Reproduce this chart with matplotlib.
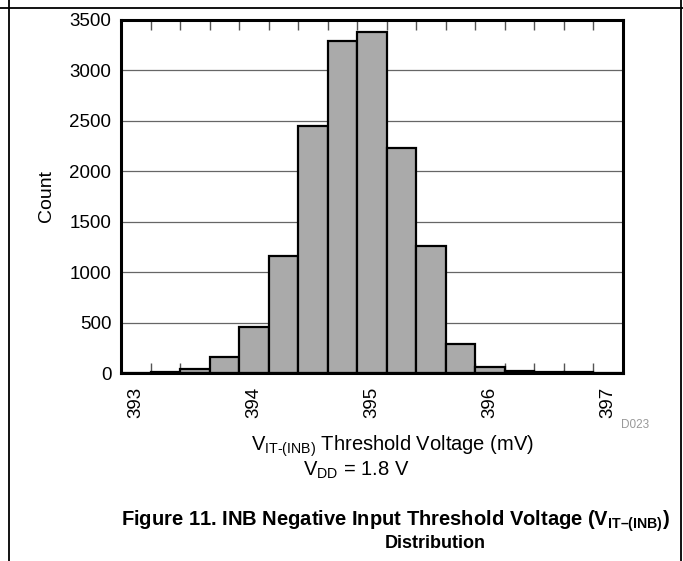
import matplotlib
matplotlib.use('Agg')
import matplotlib.pyplot as plt
from matplotlib.lines import Line2D
import numpy as np

plt.rcParams['font.family'] = ['Liberation Sans', 'DejaVu Sans']
plt.rcParams['mathtext.fontset'] = 'custom'
plt.rcParams['mathtext.rm'] = 'Liberation Sans'
plt.rcParams['mathtext.it'] = 'Liberation Sans:italic'
plt.rcParams['mathtext.bf'] = 'Liberation Sans:bold'

# histogram bins (mV) and counts
bin_centers = [393.00, 393.25, 393.50, 393.75, 394.00, 394.25, 394.50, 394.75,
               395.00, 395.25, 395.50, 395.75, 396.00, 396.25, 396.50, 396.75, 397.00]
counts = [3, 8, 35, 163, 455, 1165, 2453, 3292,
          3382, 2235, 1258, 288, 62, 15, 8, 5, 3]
bin_width = 0.25
x_labels = [393, 394, 395, 396, 397]
y_ticks = [0, 500, 1000, 1500, 2000, 2500, 3000, 3500]

W, H = 683, 561
fig = plt.figure(figsize=(W / 100, H / 100), dpi=100)
ax = fig.add_axes([121 / W, 1 - 373 / H, (622.7 - 121) / W, (373 - 20) / H])

ax.bar(bin_centers, counts, width=bin_width, color='#aaaaaa', edgecolor='black',
       linewidth=1.6, zorder=3)

edges = np.array(bin_centers) - bin_width / 2
ax.set_xlim(edges[0], bin_centers[-1] + bin_width / 2)
ax.set_ylim(0, 3500)

ax.set_xticks(x_labels)
ax.set_xticklabels([str(v) for v in x_labels], rotation=90, fontsize=13.5)
ax.set_xticks(list(edges[1:]), minor=True)
ax.tick_params(axis='x', which='major', length=0, pad=10)
ax.tick_params(axis='x', which='minor', direction='in', length=7, width=1,
               color='#555555', top=True, bottom=True)
ax.set_yticks(y_ticks)
ax.set_yticklabels([str(v) for v in y_ticks], fontsize=13.5)
ax.tick_params(axis='y', length=0, pad=7)
ax.yaxis.grid(True, color='#666666', linewidth=0.9, zorder=0)
ax.set_axisbelow(True)

for s in ax.spines.values():
    s.set_linewidth(2.2)
    s.set_zorder(4)

fig.text(46 / W, 1 - 196 / H, 'Count', rotation=90, fontsize=14,
         ha='center', va='center')
fig.text(635 / W, 1 - 425 / H, 'D023', fontsize=8.5, color='#999999',
         ha='center', va='center')
fig.text(393 / W, 1 - 446 / H,
         r'$\mathregular{V_{\text{IT-(INB)}}}$ Threshold Voltage (mV)',
         fontsize=14.5, ha='center', va='center')
fig.text(356 / W, 1 - 470 / H, r'$\mathregular{V_{DD}}$ = 1.8 V',
         fontsize=14.5, ha='center', va='center')
fig.text(395 / W, 1 - 521 / H,
         r'Figure 11. INB Negative Input Threshold Voltage ($\mathbf{V_{IT–(INB)}}$)',
         fontsize=14.5, fontweight='bold', ha='center', va='center')
fig.text(435 / W, 1 - 544 / H, 'Distribution', fontsize=13, fontweight='bold',
         ha='center', va='center')

# page frame lines
fig.add_artist(Line2D([0, 1], [1 - 7.5 / H, 1 - 7.5 / H], color='black',
                      linewidth=1.3, transform=fig.transFigure))
fig.add_artist(Line2D([9.3 / W, 9.3 / W], [0, 1], color='black',
                      linewidth=1.3, transform=fig.transFigure))
fig.add_artist(Line2D([681 / W, 681 / W], [0, 1], color='black',
                      linewidth=1.3, transform=fig.transFigure))

fig.savefig('out.png', dpi=100)
